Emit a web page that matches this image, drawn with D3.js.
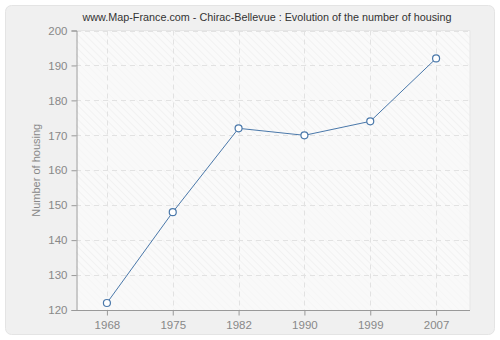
<!DOCTYPE html>
<html>
<head>
<meta charset="utf-8">
<script src="https://cdn.jsdelivr.net/npm/d3@7"></script>
<style>
  body { margin: 0; background: #fff; }
  svg { display: block; font-family: "Liberation Sans", Arial, sans-serif; }
</style>
</head>
<body>
<svg id="chart" width="500" height="340"></svg>
<script>
const years = ["1968", "1975", "1982", "1990", "1999", "2007"];
const housing = [122, 148, 172, 170, 174, 192];
const yTicks = [120, 130, 140, 150, 160, 170, 180, 190, 200];
const title = "www.Map-France.com - Chirac-Bellevue : Evolution of the number of housing";

const svg = d3.select("#chart");
const margin = { left: 76, right: 30, top: 30.5, bottom: 30 };
const width = 500, height = 340;
const font = "Liberation Sans, Arial, sans-serif";

// hatch pattern for the plot background
const defs = svg.append("defs");
const pat = defs.append("pattern")
    .attr("id", "hatch")
    .attr("patternUnits", "userSpaceOnUse")
    .attr("width", 5).attr("height", 5)
    .attr("patternTransform", "rotate(-45)");
pat.append("rect").attr("width", 5).attr("height", 5).attr("fill", "#fafafa");
pat.append("line").attr("x1", 0).attr("y1", 0).attr("x2", 0).attr("y2", 5)
    .attr("stroke", "#ebebeb").attr("stroke-width", 1);

// outer panel
svg.append("rect")
    .attr("x", 5.5).attr("y", 5.5).attr("width", 489).attr("height", 329)
    .attr("rx", 6)
    .attr("fill", "#f0f0f0").attr("stroke", "#e4e4e4");

const x = d3.scalePoint()
    .domain(years)
    .range([margin.left - 2, width - margin.right - 1])
    .padding(0.5);

const y = d3.scaleLinear()
    .domain([120, 200])
    .range([height - margin.bottom, margin.top]);

// plot area
svg.append("rect")
    .attr("x", margin.left).attr("y", margin.top)
    .attr("width", width - margin.right - margin.left)
    .attr("height", height - margin.bottom - margin.top)
    .attr("fill", "url(#hatch)");

// lighter alternate bands
svg.selectAll(".band")
    .data(yTicks.slice(0, -1).filter((d, i) => i % 2 === 0))
    .enter().append("rect")
    .attr("x", margin.left)
    .attr("y", d => y(d + 10))
    .attr("width", width - margin.right - margin.left)
    .attr("height", d => y(d) - y(d + 10))
    .attr("fill", "#f8f8f8")
    .attr("fill-opacity", 0.6);

// grid
svg.selectAll(".hgrid")
    .data(yTicks.slice(1))
    .enter().append("line")
    .attr("x1", margin.left).attr("x2", width - margin.right)
    .attr("y1", d => Math.round(y(d)) + 0.5).attr("y2", d => Math.round(y(d)) + 0.5)
    .attr("stroke", "#e2e2e2").attr("stroke-dasharray", "5,4");

svg.selectAll(".vgrid")
    .data(years)
    .enter().append("line")
    .attr("x1", d => Math.round(x(d)) + 0.5).attr("x2", d => Math.round(x(d)) + 0.5)
    .attr("y1", margin.top).attr("y2", height - margin.bottom)
    .attr("stroke", "#e2e2e2").attr("stroke-dasharray", "5,4");

// plot border top/right
svg.append("path")
    .attr("d", `M${margin.left},${margin.top}H${width - margin.right}V${height - margin.bottom}`)
    .attr("fill", "none").attr("stroke", "#e6e6e6");

// axes
const yAxis = svg.append("g")
    .attr("transform", `translate(${margin.left + 0.5},0)`)
    .call(d3.axisLeft(y).tickValues(yTicks).tickSize(5).tickPadding(4));
const xAxis = svg.append("g")
    .attr("transform", `translate(0,${height - margin.bottom + 0.5})`)
    .call(d3.axisBottom(x).tickSize(5).tickPadding(5));

[yAxis, xAxis].forEach(a => {
    a.select(".domain").attr("stroke", "#999");
    a.selectAll(".tick line").attr("stroke", "#999");
    a.selectAll(".tick text").attr("fill", "#888").attr("font-size", 11.5)
        .attr("font-family", font);
});
xAxis.select(".domain").attr("d", `M${margin.left},0H${width - margin.right}`);

// y label
svg.append("text")
    .attr("transform", `translate(40,${(margin.top + height - margin.bottom) / 2}) rotate(-90)`)
    .attr("text-anchor", "middle")
    .attr("font-size", 11)
    .attr("fill", "#888")
    .text("Number of housing");

// title
svg.append("text")
    .attr("x", 267).attr("y", 21)
    .attr("text-anchor", "middle")
    .attr("font-size", 10.8)
    .attr("fill", "#333")
    .text(title);

// line
const pts = years.map((yr, i) => [x(yr), y(housing[i])]);
svg.append("path")
    .attr("d", d3.line()(pts))
    .attr("fill", "none")
    .attr("stroke", "#4a78aa")
    .attr("stroke-width", 1);

svg.selectAll(".pt")
    .data(pts)
    .enter().append("circle")
    .attr("cx", d => d[0]).attr("cy", d => d[1])
    .attr("r", 3.5)
    .attr("fill", "#fff")
    .attr("stroke", "#4a78aa")
    .attr("stroke-width", 1.2);
</script>
</body>
</html>
